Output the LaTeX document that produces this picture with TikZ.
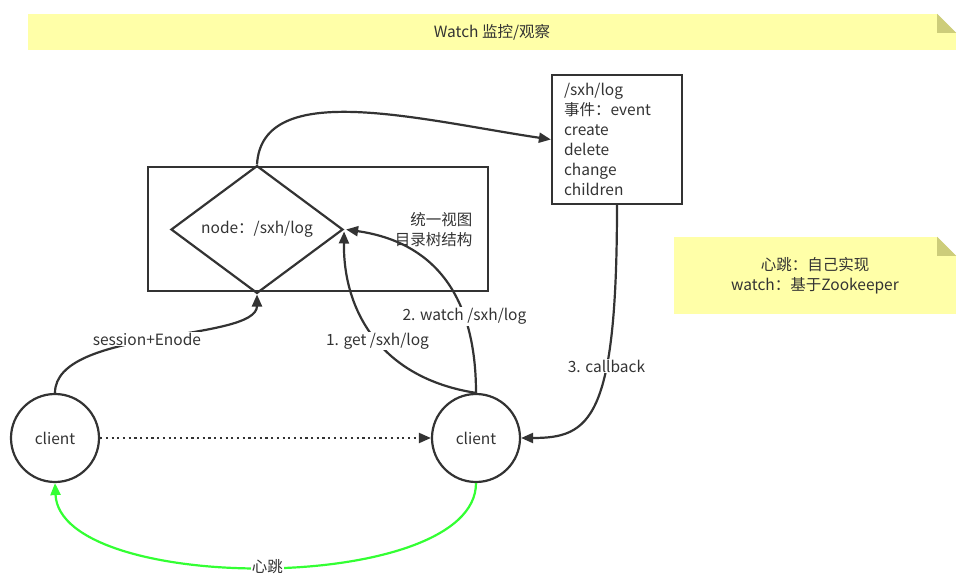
\documentclass[tikz,border=0pt]{standalone}
\usepackage{fontspec}
\setmainfont{Noto Sans CJK SC}
\usetikzlibrary{arrows.meta,shapes.geometric,calc}
\definecolor{ink}{HTML}{333333}
\definecolor{notefill}{HTML}{FFFFA8}
\definecolor{foldfill}{HTML}{CDCD7A}
\definecolor{hb}{HTML}{33FF33}
\begin{document}
\begin{tikzpicture}[x=1pt,y=-1pt,
  every node/.style={text=ink,font=\fontsize{15.5}{20}\selectfont},
  line/.style={draw=ink,line width=2.2pt},
  arr/.style={line,-{Triangle[length=12pt,width=10pt]}},
  client/.style={ellipse,draw=ink,line width=2.2pt,minimum width=88pt,minimum height=88pt,inner sep=0pt},
  box/.style={rectangle,draw=ink,line width=2.2pt,inner sep=0pt},
  note/.style={rectangle,fill=notefill,inner sep=0pt},
  lbl/.style={fill=white,inner sep=1pt}]
\useasboundingbox (0,0) rectangle (970,585);
% notes
\node[note,minimum width=928pt,minimum height=36pt] (n1) at (492,32) {Watch 监控/观察};
\fill[white] ($(n1.north east)+(-19,0)$) -- (n1.north east) -- ($(n1.north east)+(0,19)$) -- cycle;
\fill[foldfill] ($(n1.north east)+(-19,0)$) -- ($(n1.north east)+(-19,19)$) -- ($(n1.north east)+(0,19)$) -- cycle;
\node[note,minimum width=282pt,minimum height=77pt,align=center] (n2) at (815,275.5) {心跳：自己实现\\watch：基于Zookeeper};
\fill[white] ($(n2.north east)+(-19,0)$) -- (n2.north east) -- ($(n2.north east)+(0,19)$) -- cycle;
\fill[foldfill] ($(n2.north east)+(-19,0)$) -- ($(n2.north east)+(-19,19)$) -- ($(n2.north east)+(0,19)$) -- cycle;
% zookeeper box
\node[box,minimum width=340pt,minimum height=124pt] (zk) at (318,229) {};
\node[anchor=east,align=right] (zkt) at (476,230) {统一视图\\目录树结构};
\node[diamond,draw=ink,line width=2.2pt,minimum width=172pt,minimum height=97pt,inner sep=0pt] (dn) at (257,229.5) {node：/sxh/log};
% event box
\node[box,minimum width=130pt,minimum height=129pt,align=left,text width=106pt] (ev) at (617,139.5) {/sxh/log\\事件：event\\create\\delete\\change\\children};
% clients
\node[client] (c1) at (55,438) {client};
\node[client] (c2) at (476,438) {client};
% connectors
\draw[arr,dash pattern=on 2.2pt off 3.5pt] (c1.east) -- (c2.west);
\draw[arr] (c1.north) .. controls (55,328) and (257,342) .. (dn.south) node[lbl,pos=0.47] {session+Enode};
\draw[arr] (c2.north) .. controls (380,378) and (343,310) .. ($(dn.east)+(0,2)$) node[lbl,pos=0.47] {1. get /sxh/log};
\draw[arr] (c2.north) .. controls (476,280) and (420,240) .. ($(dn.east)+(2,0)$) node[lbl,pos=0.27] {2. watch /sxh/log};
\draw[arr] (dn.north) .. controls (262,78) and (420,120) .. (ev.west);
\draw[arr] (ev.south) .. controls (617,420) and (590,438) .. (c2.east) node[lbl,pos=0.35] {3. callback};
\draw[line,draw=hb,-{Triangle[length=12pt,width=10pt]}] (c2.south) .. controls (476,595) and (60,595) .. (c1.south) node[lbl,pos=0.5] {心跳};
\end{tikzpicture}
\end{document}
